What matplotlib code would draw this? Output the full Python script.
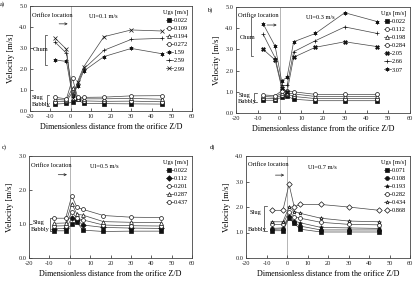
import matplotlib
matplotlib.use("Agg")
import matplotlib.pyplot as plt
import numpy as np

plt.rcParams['font.family'] = ['Liberation Serif', 'DejaVu Serif']

x = [-7.5, -2, 1, 3.5, 6.5, 16.5, 30, 45]

# Panel a: Ul = 0.1 m/s
a_labels = ['0.022', '0.109', '0.194', '0.272', '1.59', '2.59', '2.99']
a_vals = [
    [0.33, 0.36, 0.42, 0.55, 0.36, 0.35, 0.34, 0.33],
    [0.45, 0.46, 0.90, 0.60, 0.48, 0.46, 0.47, 0.44],
    [0.55, 0.52, 1.10, 0.58, 0.58, 0.58, 0.60, 0.56],
    [0.65, 0.58, 1.55, 0.65, 0.65, 0.66, 0.72, 0.73],
    [2.43, 2.36, 0.70, 1.20, 1.90, 2.59, 2.98, 2.73],
    [3.27, 2.75, 0.80, 1.30, 2.00, 2.89, 3.41, 3.46],
    [3.46, 2.94, 0.60, 1.40, 2.10, 3.54, 3.86, 3.81],
]
# Panel b: Ul = 0.3 m/s
b_labels = ['0.022', '0.112', '0.198', '0.284', '2.05', '2.66', '3.07']
b_vals = [
    [0.60, 0.60, 0.75, 0.80, 0.65, 0.58, 0.58, 0.58],
    [0.70, 0.68, 0.85, 0.90, 0.78, 0.68, 0.68, 0.68],
    [0.78, 0.75, 0.95, 0.95, 0.90, 0.78, 0.78, 0.78],
    [0.85, 0.82, 1.05, 1.05, 1.00, 0.88, 0.88, 0.88],
    [3.00, 2.50, 1.20, 1.00, 2.63, 3.10, 3.36, 3.13],
    [3.71, 2.60, 1.30, 1.30, 2.89, 3.41, 4.06, 3.75],
    [4.20, 3.15, 1.50, 1.70, 3.36, 3.75, 4.73, 4.31],
]
# Panel c: Ul = 0.5 m/s
c_labels = ['0.022', '0.112', '0.201', '0.287', '0.437']
c_vals = [
    [0.80, 0.80, 0.99, 1.05, 0.82, 0.78, 0.79, 0.79],
    [0.86, 0.87, 1.17, 1.12, 0.97, 0.90, 0.88, 0.87],
    [0.94, 0.95, 1.36, 1.17, 1.12, 0.97, 0.95, 0.94],
    [1.02, 1.03, 1.60, 1.29, 1.26, 1.07, 1.05, 1.04],
    [1.17, 1.17, 1.83, 1.49, 1.43, 1.25, 1.20, 1.19],
]
# Panel d: Ul = 0.7 m/s
d_labels = ['0.071', '0.108', '0.193', '0.282', '0.434', '0.868']
d_vals = [
    [1.07, 1.07, 1.56, 1.36, 1.13, 1.02, 1.02, 1.02],
    [1.12, 1.14, 1.60, 1.40, 1.25, 1.10, 1.10, 1.10],
    [1.16, 1.18, 1.65, 1.45, 1.38, 1.20, 1.18, 1.16],
    [1.32, 1.32, 1.82, 1.62, 1.56, 1.40, 1.32, 1.30],
    [1.42, 1.42, 2.00, 1.82, 1.75, 1.56, 1.45, 1.42],
    [1.87, 1.87, 2.89, 2.01, 2.10, 2.10, 2.00, 1.87],
]

W, H = 416, 282
fig = plt.figure(figsize=(W / 100, H / 100), dpi=100)

def rect(l, r, t, b):
    return [l / W, (H - b) / H, (r - l) / W, (b - t) / H]

FS = 4.6
XLFS = 5.8
YLFS = 6.2
k = '#222222'

def style(ax, ymax):
    ax.set_xlim(-20, 60)
    ax.set_ylim(0, ymax)
    ax.set_xticks(np.arange(-20, 61, 10))
    ax.set_xticklabels([str(v) for v in range(-20, 61, 10)], fontsize=FS)
    yt = np.arange(0, ymax + 0.01, 1.0)
    ax.set_yticks(yt)
    ax.set_yticklabels(['%.1f' % v for v in yt], fontsize=FS)
    ax.tick_params(direction='in', length=2, width=0.5, pad=2, colors=k)
    for s in ax.spines.values():
        s.set_linewidth(0.6)
        s.set_color('#444444')
    ax.axvline(0, color='#555555', lw=0.6, ls=(0, (1.2, 1.2)))
    ax.set_xlabel('Dimensionless distance from the orifice Z/D', fontsize=XLFS, labelpad=3)
    ax.set_ylabel('Velocity [m/s]', fontsize=YLFS, labelpad=3)

def plot_series(ax, labels, vals, markers):
    for lab, v, (m, filled) in zip(labels, vals, markers):
        ax.plot(x, v, color='#444444', lw=0.5, marker=m, ms=2.8,
                mfc='#111111' if filled else 'white', mec='#111111', mew=0.5,
                label=lab)
    lg = ax.legend(loc='upper right', frameon=False, fontsize=FS,
                   title='Ugs [m/s]', title_fontsize=FS, handlelength=1.0,
                   handletextpad=0.2, labelspacing=0.4, borderaxespad=0.2)
    lg._legend_box.align = 'right'

def bracket(ax, xb, y0, y1, w=1.0):
    ax.plot([xb + w, xb, xb, xb + w], [y0, y0, y1, y1], color='#333333', lw=0.5)

def orifice(ax, ytext, yarr):
    ax.text(-19, ytext, 'Orifice location', fontsize=FS, va='center', ha='left')
    ax.annotate('', xy=(0, yarr), xytext=(-7, yarr),
                arrowprops=dict(arrowstyle='->', lw=0.5, color='#222222', mutation_scale=4))

# a
ax = fig.add_axes(rect(30, 192, 6, 111))
plot_series(ax, a_labels, a_vals,
            [('s', True), ('o', False), ('^', False), ('o', False),
             ((6, 2, 0), False), ('+', False), ('x', False)])
style(ax, 5.0)
orifice(ax, 4.55, 4.15)
ax.text(9, 4.5, 'Ul=0.1 m/s', fontsize=FS, va='center')
ax.text(-18.5, 2.95, 'Chum', fontsize=FS, va='center')
bracket(ax, -12.5, 2.2, 3.6)
ax.text(-19, 0.62, 'Slug', fontsize=FS, va='center')
ax.text(-19, 0.33, 'Bubbly', fontsize=FS, va='center')
bracket(ax, -11.5, 0.25, 0.75)

# b
ax = fig.add_axes(rect(236, 410, 7, 113))
plot_series(ax, b_labels, b_vals,
            [('s', True), ('o', False), ('^', False), ('o', False),
             ('X', True), ('+', False), ((6, 2, 0), False)])
style(ax, 5.0)
orifice(ax, 4.6, 4.15)
ax.text(12, 4.5, 'Ul=0.3 m/s', fontsize=FS, va='center')
ax.text(-18.5, 3.55, 'Chum', fontsize=FS, va='center')
bracket(ax, -13, 2.7, 4.55)
ax.text(-19, 0.82, 'Slug', fontsize=FS, va='center')
ax.text(-19, 0.55, 'Bubbly', fontsize=FS, va='center')
bracket(ax, -11.5, 0.5, 0.95)

# c
ax = fig.add_axes(rect(29, 192, 156, 258))
plot_series(ax, c_labels, c_vals,
            [('s', True), ('D', True), ('o', False), ('^', False), ('o', False)])
style(ax, 3.0)
orifice(ax, 2.72, 2.45)
ax.text(10, 2.68, 'Ul=0.5 m/s', fontsize=FS, va='center')
ax.text(-18, 1.05, 'Slug', fontsize=FS, va='center')
ax.text(-19, 0.84, 'Bubbly', fontsize=FS, va='center')
bracket(ax, -9.5, 0.8, 1.18)

# d
ax = fig.add_axes(rect(246, 410, 156, 258))
plot_series(ax, d_labels, d_vals,
            [('s', True), ('o', True), ('*', True), ('o', False), ('*', False), ('D', False)])
style(ax, 4.0)
orifice(ax, 3.65, 3.25)
ax.text(10, 3.55, 'Ul=0.7 m/s', fontsize=FS, va='center')
ax.text(-18, 1.8, 'Slug', fontsize=FS, va='center')
ax.text(-19, 1.12, 'Bubbly', fontsize=FS, va='center')
bracket(ax, -11, 1.05, 2.05)

fig.text(0 / W, 1 - 4 / H, 'a)', fontsize=FS, va='center')
fig.text(207 / W, 1 - 10 / H, 'b)', fontsize=FS, va='center')
fig.text(2 / W, 1 - 147 / H, 'c)', fontsize=FS, va='center')
fig.text(210 / W, 1 - 147 / H, 'd)', fontsize=FS, va='center')

fig.savefig('out.png', dpi=100)
